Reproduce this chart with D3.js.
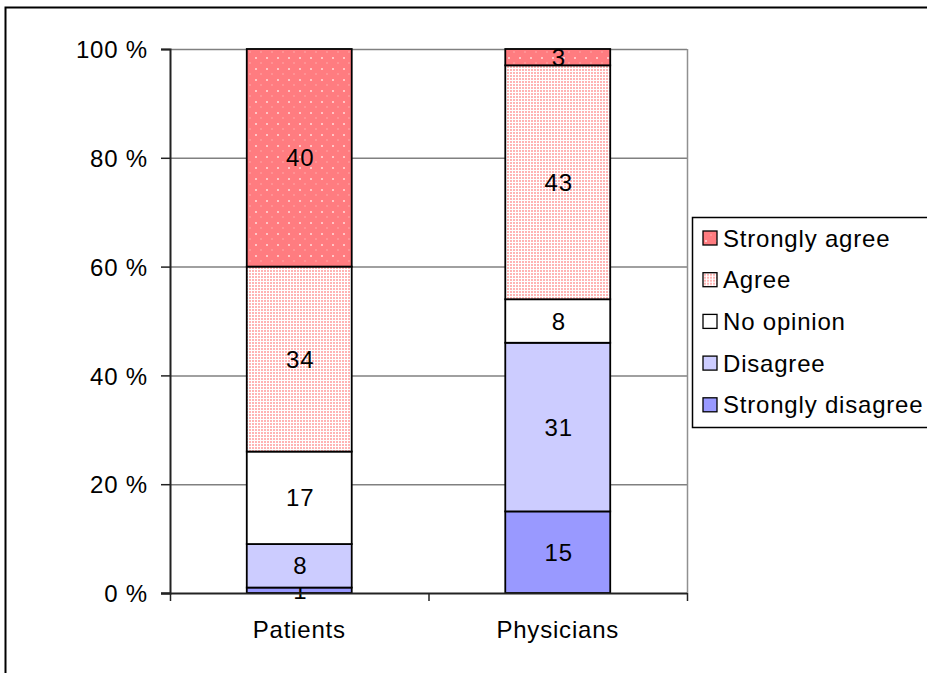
<!DOCTYPE html>
<html>
<head>
<meta charset="utf-8">
<script src="https://cdn.jsdelivr.net/npm/d3@7"></script>
<style>
  body { margin: 0; background: #fff; }
  text { font-family: Arial, "Liberation Sans", sans-serif; font-size: 24px; fill: #000; letter-spacing: 0.8px; }
</style>
</head>
<body>
<div id="chart"></div>
<script>
let categories = ["Patients", "Physicians"];
let seriesNames = ["Strongly disagree", "Disagree", "No opinion", "Agree", "Strongly agree"];
let patients = [1, 8, 17, 34, 40];
let physicians = [15, 31, 8, 43, 3];
let yTicks = [0, 20, 40, 60, 80, 100];

let W = 927, H = 673;
let plot = {left: 170, top: 49, right: 687, bottom: 593};

let svg = d3.select("#chart")
    .append("svg")
    .attr("width", W)
    .attr("height", H);

let defs = svg.append("defs");

// strongly agree: salmon with sparse light dots
let pSA = defs.append("pattern")
    .attr("id", "pSA")
    .attr("patternUnits", "userSpaceOnUse")
    .attr("width", 11)
    .attr("height", 11);
pSA.append("rect").attr("width", 11).attr("height", 11).attr("fill", "#ff7c80");
pSA.append("rect").attr("x", 2).attr("y", 2).attr("width", 2).attr("height", 2).attr("fill", "#ffc4c4");
pSA.append("rect").attr("x", 7).attr("y", 7.5).attr("width", 2).attr("height", 1).attr("fill", "#ffa8a8");

// agree: white with dense pink dots
let pA = defs.append("pattern")
    .attr("id", "pA")
    .attr("patternUnits", "userSpaceOnUse")
    .attr("width", 3)
    .attr("height", 3);
pA.append("rect").attr("width", 3).attr("height", 3).attr("fill", "#fff");
pA.append("rect").attr("x", 0).attr("y", 0).attr("width", 2).attr("height", 2).attr("fill", "#ffb4b4");

let fills = {
    "Strongly disagree": "#9999ff",
    "Disagree": "#ccccff",
    "No opinion": "#ffffff",
    "Agree": "url(#pA)",
    "Strongly agree": "url(#pSA)"
};

// outer frame
svg.append("rect")
    .attr("x", 5.5)
    .attr("y", 7.5)
    .attr("width", W + 10)
    .attr("height", H + 10)
    .attr("fill", "none")
    .attr("stroke", "#000")
    .attr("stroke-width", 2);

let yScale = d3.scaleLinear().domain([0, 100]).range([plot.bottom, plot.top]);
let xFrame = d3.scaleBand().domain(categories).range([plot.left, plot.right]);
let xScale = d3.scaleBand().domain(categories).range([plot.left, plot.right])
    .paddingInner(0.594).paddingOuter(0.297);

// gridlines
svg.append("g")
    .selectAll("line")
    .data(yTicks.filter(d => d > 0))
    .join("line")
    .attr("x1", plot.left)
    .attr("x2", plot.right)
    .attr("y1", d => yScale(d) + 0.5)
    .attr("y2", d => yScale(d) + 0.5)
    .attr("stroke", "#808080")
    .attr("stroke-width", 1.5);

svg.append("line")
    .attr("x1", plot.right + 0.5)
    .attr("x2", plot.right + 0.5)
    .attr("y1", plot.top)
    .attr("y2", plot.bottom)
    .attr("stroke", "#909090")
    .attr("stroke-width", 1.5);

// stacked bars
let rows = categories.map((c, i) => {
    let row = {cat: c};
    let vals = i === 0 ? patients : physicians;
    seriesNames.forEach((s, j) => row[s] = vals[j]);
    return row;
});
let stack = d3.stack().keys(seriesNames)(rows);

let layers = svg.append("g")
    .selectAll("g")
    .data(stack)
    .join("g");

layers.selectAll("rect")
    .data(d => d.map(p => ({key: d.key, p: p})))
    .join("rect")
    .attr("x", d => xScale(d.p.data.cat))
    .attr("y", d => yScale(d.p[1]))
    .attr("width", xScale.bandwidth())
    .attr("height", d => yScale(d.p[0]) - yScale(d.p[1]))
    .attr("fill", d => fills[d.key])
    .attr("stroke", "#000")
    .attr("stroke-width", 1.8);

layers.selectAll("text")
    .data(d => d.map(p => ({key: d.key, p: p})))
    .join("text")
    .attr("x", d => xScale(d.p.data.cat) + xScale.bandwidth() / 2 + 1)
    .attr("y", d => (yScale(d.p[0]) + yScale(d.p[1])) / 2)
    .attr("dy", "0.36em")
    .attr("text-anchor", "middle")
    .text(d => d.p.data[d.key]);

// axes
let yAxis = d3.axisLeft(yScale)
    .tickValues(yTicks)
    .tickFormat(d => d + " %")
    .tickSize(9)
    .tickPadding(13);

let gy = svg.append("g")
    .attr("transform", "translate(" + plot.left + ",0)")
    .call(yAxis);
gy.select(".domain").attr("stroke", "#222").attr("stroke-width", 2);
gy.selectAll(".tick line").attr("stroke", "#222").attr("stroke-width", 1.5);
gy.selectAll(".tick text")
    .attr("font-family", null)
    .attr("font-size", null)
    .attr("dy", "0.36em");

let gx = svg.append("g");
gx.append("line")
    .attr("x1", plot.left - 9)
    .attr("x2", plot.right)
    .attr("y1", plot.bottom + 0.5)
    .attr("y2", plot.bottom + 0.5)
    .attr("stroke", "#222")
    .attr("stroke-width", 2);

let edges = categories.map(c => xFrame(c)).concat([plot.right]);
gx.selectAll("line.tk")
    .data(edges)
    .join("line")
    .attr("class", "tk")
    .attr("x1", d => d + 0.5)
    .attr("x2", d => d + 0.5)
    .attr("y1", plot.bottom)
    .attr("y2", plot.bottom + 8)
    .attr("stroke", "#222")
    .attr("stroke-width", 1.5);

gx.selectAll("text")
    .data(categories)
    .join("text")
    .attr("x", d => xFrame(d) + xFrame.bandwidth() / 2)
    .attr("y", 638)
    .attr("text-anchor", "middle")
    .text(d => d);

// legend
let legend = svg.append("g").attr("transform", "translate(692,217)");
legend.append("rect")
    .attr("x", 0.5)
    .attr("y", 0.5)
    .attr("width", 260)
    .attr("height", 210)
    .attr("fill", "#fff")
    .attr("stroke", "#000")
    .attr("stroke-width", 1.5);

let legendOrder = seriesNames.slice().reverse();
let items = legend.selectAll("g.item")
    .data(legendOrder)
    .join("g")
    .attr("class", "item")
    .attr("transform", (d, i) => "translate(0," + (21 + i * 41.7) + ")");

items.append("rect")
    .attr("x", 11)
    .attr("y", -7)
    .attr("width", 14)
    .attr("height", 14)
    .attr("fill", d => fills[d])
    .attr("stroke", "#000")
    .attr("stroke-width", 1.3);

items.append("text")
    .attr("x", 31)
    .attr("y", 0)
    .attr("dy", "0.36em")
    .text(d => d);
</script>
</body>
</html>
